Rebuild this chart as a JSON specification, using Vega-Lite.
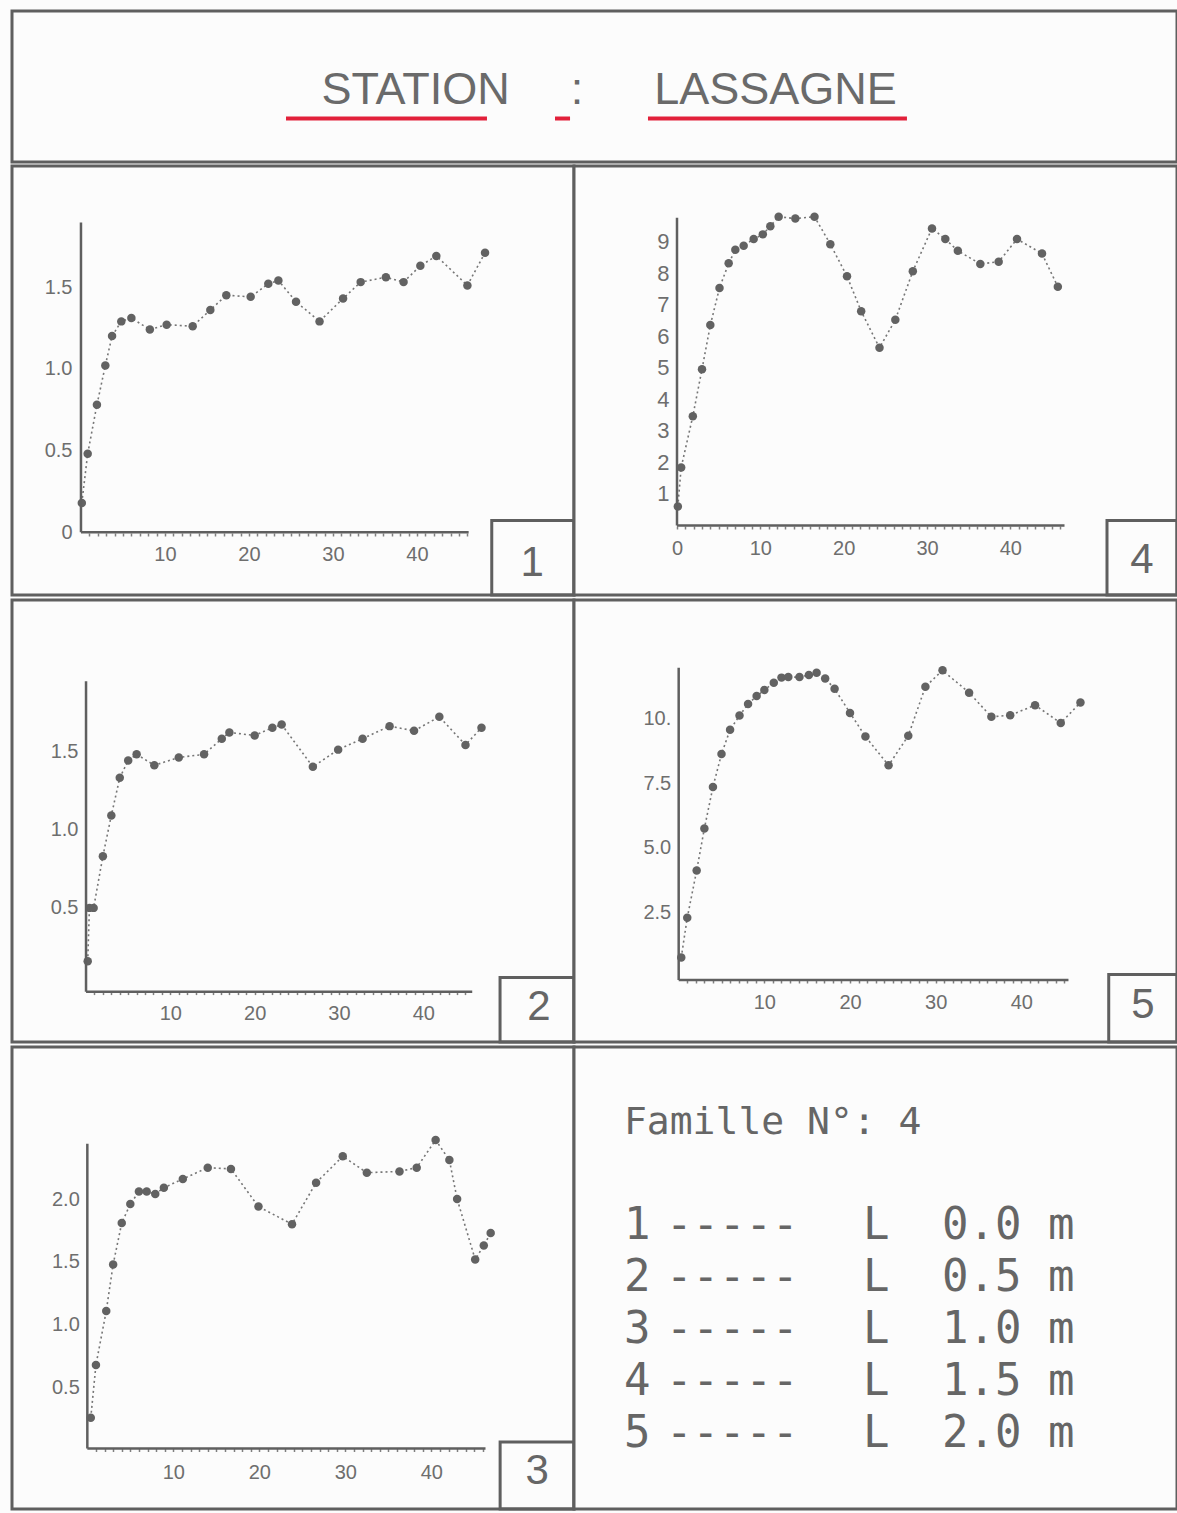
{
"$schema": "https://vega.github.io/schema/vega-lite/v6.json",
"padding": {"left": 10, "top": 9, "right": 2, "bottom": 2},
"background": "#fcfcfc",
"spacing": 0,
"config": {
 "view": {"stroke": "#5f5f5f", "strokeWidth": 3, "fill": "#fcfcfc"},
 "axis": {"grid": false, "domain": false, "labelFont": "Liberation Sans", "labelFontSize": 20, "labelColor": "#6e6e6e", "tickColor": "#808080", "tickWidth": 1.5, "labelFlush": false, "labelOverlap": false, "labelBound": false, "tickCount": 100},
 "text": {"font": "Liberation Sans", "color": "#666666"}
},
"datasets": {
 "profils": [
  {"panel":1,"x":0.1,"y":0.18},{"panel":1,"x":0.8,"y":0.48},{"panel":1,"x":1.9,"y":0.78},{"panel":1,"x":2.9,"y":1.02},{"panel":1,"x":3.7,"y":1.2},{"panel":1,"x":4.8,"y":1.29},{"panel":1,"x":6.0,"y":1.31},{"panel":1,"x":8.2,"y":1.24},{"panel":1,"x":10.2,"y":1.27},{"panel":1,"x":13.3,"y":1.26},{"panel":1,"x":15.4,"y":1.36},{"panel":1,"x":17.3,"y":1.45},{"panel":1,"x":20.2,"y":1.44},{"panel":1,"x":22.3,"y":1.52},{"panel":1,"x":23.5,"y":1.54},{"panel":1,"x":25.6,"y":1.41},{"panel":1,"x":28.4,"y":1.29},{"panel":1,"x":31.2,"y":1.43},{"panel":1,"x":33.3,"y":1.53},{"panel":1,"x":36.3,"y":1.56},{"panel":1,"x":38.4,"y":1.53},{"panel":1,"x":40.4,"y":1.63},{"panel":1,"x":42.3,"y":1.69},{"panel":1,"x":46.0,"y":1.51},{"panel":1,"x":48.1,"y":1.71},
  {"panel":4,"x":0.1,"y":0.6},{"panel":4,"x":0.5,"y":1.84},{"panel":4,"x":1.9,"y":3.47},{"panel":4,"x":3.0,"y":4.96},{"panel":4,"x":4.0,"y":6.36},{"panel":4,"x":5.1,"y":7.54},{"panel":4,"x":6.2,"y":8.32},{"panel":4,"x":7.0,"y":8.75},{"panel":4,"x":8.0,"y":8.88},{"panel":4,"x":9.2,"y":9.09},{"panel":4,"x":10.3,"y":9.24},{"panel":4,"x":11.2,"y":9.5},{"panel":4,"x":12.2,"y":9.8},{"panel":4,"x":14.2,"y":9.74},{"panel":4,"x":16.5,"y":9.8},{"panel":4,"x":18.4,"y":8.93},{"panel":4,"x":20.4,"y":7.91},{"panel":4,"x":22.1,"y":6.8},{"panel":4,"x":24.3,"y":5.64},{"panel":4,"x":26.2,"y":6.53},{"panel":4,"x":28.3,"y":8.07},{"panel":4,"x":30.6,"y":9.43},{"panel":4,"x":32.2,"y":9.09},{"panel":4,"x":33.7,"y":8.72},{"panel":4,"x":36.4,"y":8.3},{"panel":4,"x":38.6,"y":8.37},{"panel":4,"x":40.8,"y":9.09},{"panel":4,"x":43.8,"y":8.63},{"panel":4,"x":45.7,"y":7.58},
  {"panel":2,"x":0.2,"y":0.16},{"panel":2,"x":0.4,"y":0.5},{"panel":2,"x":0.9,"y":0.5},{"panel":2,"x":2.0,"y":0.83},{"panel":2,"x":3.0,"y":1.09},{"panel":2,"x":4.0,"y":1.33},{"panel":2,"x":5.0,"y":1.44},{"panel":2,"x":6.0,"y":1.48},{"panel":2,"x":8.1,"y":1.41},{"panel":2,"x":11.0,"y":1.46},{"panel":2,"x":14.0,"y":1.48},{"panel":2,"x":16.1,"y":1.58},{"panel":2,"x":17.0,"y":1.62},{"panel":2,"x":20.0,"y":1.6},{"panel":2,"x":22.1,"y":1.65},{"panel":2,"x":23.2,"y":1.67},{"panel":2,"x":26.9,"y":1.4},{"panel":2,"x":29.9,"y":1.51},{"panel":2,"x":32.8,"y":1.58},{"panel":2,"x":36.0,"y":1.66},{"panel":2,"x":38.9,"y":1.63},{"panel":2,"x":41.9,"y":1.72},{"panel":2,"x":45.0,"y":1.54},{"panel":2,"x":46.9,"y":1.65},
  {"panel":5,"x":0.3,"y":0.78},{"panel":5,"x":1.0,"y":2.31},{"panel":5,"x":2.1,"y":4.13},{"panel":5,"x":3.0,"y":5.75},{"panel":5,"x":4.0,"y":7.35},{"panel":5,"x":5.0,"y":8.62},{"panel":5,"x":6.0,"y":9.55},{"panel":5,"x":7.1,"y":10.1},{"panel":5,"x":8.1,"y":10.54},{"panel":5,"x":9.1,"y":10.85},{"panel":5,"x":10.0,"y":11.08},{"panel":5,"x":11.1,"y":11.36},{"panel":5,"x":12.0,"y":11.56},{"panel":5,"x":12.8,"y":11.58},{"panel":5,"x":14.1,"y":11.58},{"panel":5,"x":15.2,"y":11.66},{"panel":5,"x":16.1,"y":11.75},{"panel":5,"x":17.1,"y":11.53},{"panel":5,"x":18.2,"y":11.13},{"panel":5,"x":20.0,"y":10.2},{"panel":5,"x":21.8,"y":9.29},{"panel":5,"x":24.5,"y":8.18},{"panel":5,"x":26.8,"y":9.32},{"panel":5,"x":28.8,"y":11.21},{"panel":5,"x":30.8,"y":11.84},{"panel":5,"x":33.9,"y":10.98},{"panel":5,"x":36.5,"y":10.05},{"panel":5,"x":38.7,"y":10.11},{"panel":5,"x":41.6,"y":10.5},{"panel":5,"x":44.6,"y":9.81},{"panel":5,"x":46.9,"y":10.6},
  {"panel":3,"x":0.4,"y":0.26},{"panel":3,"x":1.0,"y":0.68},{"panel":3,"x":2.2,"y":1.11},{"panel":3,"x":3.0,"y":1.48},{"panel":3,"x":4.0,"y":1.81},{"panel":3,"x":5.0,"y":1.96},{"panel":3,"x":6.0,"y":2.06},{"panel":3,"x":6.9,"y":2.06},{"panel":3,"x":7.9,"y":2.04},{"panel":3,"x":8.9,"y":2.09},{"panel":3,"x":11.1,"y":2.16},{"panel":3,"x":14.0,"y":2.25},{"panel":3,"x":16.7,"y":2.24},{"panel":3,"x":19.9,"y":1.94},{"panel":3,"x":23.8,"y":1.8},{"panel":3,"x":26.6,"y":2.13},{"panel":3,"x":29.7,"y":2.34},{"panel":3,"x":32.5,"y":2.21},{"panel":3,"x":36.3,"y":2.22},{"panel":3,"x":38.3,"y":2.25},{"panel":3,"x":40.5,"y":2.47},{"panel":3,"x":42.1,"y":2.31},{"panel":3,"x":43.0,"y":2.0},{"panel":3,"x":45.1,"y":1.52},{"panel":3,"x":46.1,"y":1.63},{"panel":3,"x":46.9,"y":1.73}
 ]
},
"vconcat": [
 {
  "width": 1165, "height": 151,
  "data": {"values": [{}]},
  "layer": [
   {"mark": {"type": "text", "text": "STATION", "fontSize": 45, "align": "center", "baseline": "alphabetic", "color": "#6a6a6a"},
    "encoding": {"x": {"datum": 0.3464, "type": "quantitative", "scale": {"domain": [0, 1], "nice": false, "zero": false}, "axis": null},
                 "y": {"datum": 0.385, "type": "quantitative", "scale": {"domain": [0, 1], "nice": false, "zero": false}, "axis": null}}},
   {"mark": {"type": "text", "text": ":", "fontSize": 45, "align": "center", "baseline": "alphabetic", "color": "#6a6a6a"},
    "encoding": {"x": {"datum": 0.485, "type": "quantitative", "axis": null}, "y": {"datum": 0.385, "type": "quantitative", "axis": null}}},
   {"mark": {"type": "text", "text": "LASSAGNE", "fontSize": 45, "align": "center", "baseline": "alphabetic", "color": "#6a6a6a"},
    "encoding": {"x": {"datum": 0.6554, "type": "quantitative", "axis": null}, "y": {"datum": 0.385, "type": "quantitative", "axis": null}}},
   {"mark": {"type": "rule", "color": "#e2203a", "strokeWidth": 4},
    "encoding": {"x": {"datum": 0.2352, "type": "quantitative", "axis": null}, "x2": {"datum": 0.4077}, "y": {"datum": 0.288, "type": "quantitative", "axis": null}}},
   {"mark": {"type": "rule", "color": "#e2203a", "strokeWidth": 4},
    "encoding": {"x": {"datum": 0.4661, "type": "quantitative", "axis": null}, "x2": {"datum": 0.479}, "y": {"datum": 0.288, "type": "quantitative", "axis": null}}},
   {"mark": {"type": "rule", "color": "#e2203a", "strokeWidth": 4},
    "encoding": {"x": {"datum": 0.5459, "type": "quantitative", "axis": null}, "x2": {"datum": 0.7682}, "y": {"datum": 0.288, "type": "quantitative", "axis": null}}}
  ]
 },
 {
  "hconcat": [
   {
    "width": 562, "height": 429,
    "layer": [
     {"data": {"name": "profils"}, "transform": [{"filter": "datum.panel === 1"}],
      "mark": {"type": "line", "color": "#767676", "strokeWidth": 1.6, "strokeDash": [2, 3], "point": {"filled": true, "size": 72, "color": "#626262"}},
      "encoding": {
       "x": {"field": "x", "type": "quantitative", "scale": {"domain": [-8.21, 58.69], "nice": false, "zero": false},
             "axis": {"title": null, "orient": "bottom", "offset": -62, "tickCount": 100, "values": [1,2,3,4,5,6,7,8,9,10,11,12,13,14,15,16,17,18,19,20,21,22,23,24,25,26,27,28,29,30,31,32,33,34,35,36,37,38,39,40,41,42,43,44,45,46], "labelExpr": "datum.value % 10 === 0 ? format(datum.value, 'd') : ''", "labelOverlap": false, "tickSize": 3, "labelPadding": 8}},
       "y": {"field": "y", "type": "quantitative", "scale": {"domain": [-0.383, 2.24], "nice": false, "zero": false},
             "axis": {"title": null, "orient": "left", "offset": -69, "tickCount": 100, "values": [0, 0.5, 1, 1.5], "labelExpr": "datum.value === 0 ? '0' : format(datum.value, '.1f')", "labelOverlap": false, "ticks": false, "labelPadding": 9}}
      }},
     {"data": {"values": [{}]}, "mark": {"type": "rule", "color": "#5f5f5f", "strokeWidth": 2.5},
      "encoding": {"x": {"datum": 0, "type": "quantitative"}, "y": {"datum": 0, "type": "quantitative"}, "y2": {"datum": 1.894}}},
     {"data": {"values": [{}]}, "mark": {"type": "rule", "color": "#5f5f5f", "strokeWidth": 2.5},
      "encoding": {"x": {"datum": 0, "type": "quantitative"}, "x2": {"datum": 46.15}, "y": {"datum": 0, "type": "quantitative"}}},
     {"data": {"values": [{}]}, "mark": {"type": "rect", "fill": null, "fillOpacity": 0, "stroke": "#5f5f5f", "strokeWidth": 3},
      "encoding": {"x": {"datum": 48.9, "type": "quantitative"}, "x2": {"datum": 58.69}, "y": {"datum": 0.073, "type": "quantitative"}, "y2": {"datum": -0.383}}},
     {"data": {"values": [{}]}, "mark": {"type": "text", "text": "1", "fontSize": 42, "align": "center", "baseline": "middle", "color": "#666666"},
      "encoding": {"x": {"datum": 53.7, "type": "quantitative"}, "y": {"datum": -0.188, "type": "quantitative"}}}
    ]
   },
   {
    "width": 603, "height": 429,
    "layer": [
     {"data": {"name": "profils"}, "transform": [{"filter": "datum.panel === 4"}],
      "mark": {"type": "line", "color": "#767676", "strokeWidth": 1.6, "strokeDash": [2, 3], "point": {"filled": true, "size": 72, "color": "#626262"}},
      "encoding": {
       "x": {"field": "x", "type": "quantitative", "scale": {"domain": [-12.36, 60.0], "nice": false, "zero": false},
             "axis": {"title": null, "orient": "bottom", "offset": -69, "tickCount": 100, "values": [0,1,2,3,4,5,6,7,8,9,10,11,12,13,14,15,16,17,18,19,20,21,22,23,24,25,26,27,28,29,30,31,32,33,34,35,36,37,38,39,40,41,42,43,44,45,46], "labelExpr": "datum.value % 10 === 0 ? format(datum.value, 'd') : ''", "labelOverlap": false, "tickSize": 3, "labelPadding": 9}},
       "y": {"field": "y", "type": "quantitative", "scale": {"domain": [-2.206, 11.41], "nice": false, "zero": false},
             "axis": {"title": null, "orient": "left", "offset": -103, "tickCount": 100, "values": [1,2,3,4,5,6,7,8,9], "labelExpr": "format(datum.value, 'd')", "labelOverlap": false, "ticks": false, "labelPadding": 8, "labelFontSize": 22}}
      }},
     {"data": {"values": [{}]}, "mark": {"type": "rule", "color": "#5f5f5f", "strokeWidth": 2.5},
      "encoding": {"x": {"datum": 0, "type": "quantitative"}, "y": {"datum": 0, "type": "quantitative"}, "y2": {"datum": 9.77}}},
     {"data": {"values": [{}]}, "mark": {"type": "rule", "color": "#5f5f5f", "strokeWidth": 2.5},
      "encoding": {"x": {"datum": 0, "type": "quantitative"}, "x2": {"datum": 46.5}, "y": {"datum": 0, "type": "quantitative"}}},
     {"data": {"values": [{}]}, "mark": {"type": "rect", "fill": null, "fillOpacity": 0, "stroke": "#5f5f5f", "strokeWidth": 3},
      "encoding": {"x": {"datum": 51.6, "type": "quantitative"}, "x2": {"datum": 60.0}, "y": {"datum": 0.158, "type": "quantitative"}, "y2": {"datum": -2.206}}},
     {"data": {"values": [{}]}, "mark": {"type": "text", "text": "4", "fontSize": 42, "align": "center", "baseline": "middle", "color": "#666666"},
      "encoding": {"x": {"datum": 55.8, "type": "quantitative"}, "y": {"datum": -1.1, "type": "quantitative"}}}
    ]
   }
  ],
  "spacing": 0, "bounds": "flush"
 },
 {
  "hconcat": [
   {
    "width": 562, "height": 442,
    "layer": [
     {"data": {"name": "profils"}, "transform": [{"filter": "datum.panel === 2"}],
      "mark": {"type": "line", "color": "#767676", "strokeWidth": 1.6, "strokeDash": [2, 3], "point": {"filled": true, "size": 72, "color": "#626262"}},
      "encoding": {
       "x": {"field": "x", "type": "quantitative", "scale": {"domain": [-8.78, 57.87], "nice": false, "zero": false},
             "axis": {"title": null, "orient": "bottom", "offset": -50.4, "tickCount": 100, "values": [1,2,3,4,5,6,7,8,9,10,11,12,13,14,15,16,17,18,19,20,21,22,23,24,25,26,27,28,29,30,31,32,33,34,35,36,37,38,39,40,41,42,43,44,45], "labelExpr": "datum.value % 10 === 0 ? format(datum.value, 'd') : ''", "labelOverlap": false, "tickSize": 3, "labelPadding": 9}},
       "y": {"field": "y", "type": "quantitative", "scale": {"domain": [-0.356, 2.465], "nice": false, "zero": false},
             "axis": {"title": null, "orient": "left", "offset": -74, "tickCount": 100, "values": [0.5, 1, 1.5], "labelExpr": "format(datum.value, '.1f')", "labelOverlap": false, "ticks": false, "labelPadding": 8}}
      }},
     {"data": {"values": [{}]}, "mark": {"type": "rule", "color": "#5f5f5f", "strokeWidth": 2.5},
      "encoding": {"x": {"datum": 0, "type": "quantitative"}, "y": {"datum": -0.035, "type": "quantitative"}, "y2": {"datum": 1.947}}},
     {"data": {"values": [{}]}, "mark": {"type": "rule", "color": "#5f5f5f", "strokeWidth": 2.5},
      "encoding": {"x": {"datum": 0, "type": "quantitative"}, "x2": {"datum": 45.8}, "y": {"datum": -0.035, "type": "quantitative"}}},
     {"data": {"values": [{}]}, "mark": {"type": "rect", "fill": null, "fillOpacity": 0, "stroke": "#5f5f5f", "strokeWidth": 3},
      "encoding": {"x": {"datum": 49.1, "type": "quantitative"}, "x2": {"datum": 57.87}, "y": {"datum": 0.056, "type": "quantitative"}, "y2": {"datum": -0.356}}},
     {"data": {"values": [{}]}, "mark": {"type": "text", "text": "2", "fontSize": 42, "align": "center", "baseline": "middle", "color": "#666666"},
      "encoding": {"x": {"datum": 53.7, "type": "quantitative"}, "y": {"datum": -0.134, "type": "quantitative"}}}
    ]
   },
   {
    "width": 603, "height": 442,
    "layer": [
     {"data": {"name": "profils"}, "transform": [{"filter": "datum.panel === 5"}],
      "mark": {"type": "line", "color": "#767676", "strokeWidth": 1.6, "strokeDash": [2, 3], "point": {"filled": true, "size": 72, "color": "#626262"}},
      "encoding": {
       "x": {"field": "x", "type": "quantitative", "scale": {"domain": [-12.22, 58.17], "nice": false, "zero": false},
             "axis": {"title": null, "orient": "bottom", "offset": -62, "tickCount": 100, "values": [1,2,3,4,5,6,7,8,9,10,11,12,13,14,15,16,17,18,19,20,21,22,23,24,25,26,27,28,29,30,31,32,33,34,35,36,37,38,39,40,41,42,43,44,45], "labelExpr": "datum.value % 10 === 0 ? format(datum.value, 'd') : ''", "labelOverlap": false, "tickSize": 3, "labelPadding": 9}},
       "y": {"field": "y", "type": "quantitative", "scale": {"domain": [-2.476, 14.55], "nice": false, "zero": false},
             "axis": {"title": null, "orient": "left", "offset": -104.7, "tickCount": 100, "values": [2.5, 5, 7.5, 10], "labelExpr": "datum.value === 10 ? '10.' : format(datum.value, '.1f')", "labelOverlap": false, "ticks": false, "labelPadding": 8}}
      }},
     {"data": {"values": [{}]}, "mark": {"type": "rule", "color": "#5f5f5f", "strokeWidth": 2.5},
      "encoding": {"x": {"datum": 0, "type": "quantitative"}, "y": {"datum": -0.09, "type": "quantitative"}, "y2": {"datum": 11.94}}},
     {"data": {"values": [{}]}, "mark": {"type": "rule", "color": "#5f5f5f", "strokeWidth": 2.5},
      "encoding": {"x": {"datum": 0, "type": "quantitative"}, "x2": {"datum": 45.5}, "y": {"datum": -0.09, "type": "quantitative"}}},
     {"data": {"values": [{}]}, "mark": {"type": "rect", "fill": null, "fillOpacity": 0, "stroke": "#5f5f5f", "strokeWidth": 3},
      "encoding": {"x": {"datum": 50.2, "type": "quantitative"}, "x2": {"datum": 58.17}, "y": {"datum": 0.126, "type": "quantitative"}, "y2": {"datum": -2.476}}},
     {"data": {"values": [{}]}, "mark": {"type": "text", "text": "5", "fontSize": 42, "align": "center", "baseline": "middle", "color": "#666666"},
      "encoding": {"x": {"datum": 54.2, "type": "quantitative"}, "y": {"datum": -1.06, "type": "quantitative"}}}
    ]
   }
  ],
  "spacing": 0, "bounds": "flush"
 },
 {
  "hconcat": [
   {
    "width": 562, "height": 462,
    "layer": [
     {"data": {"name": "profils"}, "transform": [{"filter": "datum.panel === 3"}],
      "mark": {"type": "line", "color": "#767676", "strokeWidth": 1.6, "strokeDash": [2, 3], "point": {"filled": true, "size": 72, "color": "#626262"}},
      "encoding": {
       "x": {"field": "x", "type": "quantitative", "scale": {"domain": [-8.76, 56.59], "nice": false, "zero": false},
             "axis": {"title": null, "orient": "bottom", "offset": -60.5, "tickCount": 100, "values": [1,2,3,4,5,6,7,8,9,10,11,12,13,14,15,16,17,18,19,20,21,22,23,24,25,26,27,28,29,30,31,32,33,34,35,36,37,38,39,40,41,42,43,44,45,46], "labelExpr": "datum.value % 10 === 0 ? format(datum.value, 'd') : ''", "labelOverlap": false, "tickSize": 3, "labelPadding": 11}},
       "y": {"field": "y", "type": "quantitative", "scale": {"domain": [-0.466, 3.21], "nice": false, "zero": false},
             "axis": {"title": null, "orient": "left", "offset": -75.3, "tickCount": 100, "values": [0.5, 1, 1.5, 2], "labelExpr": "format(datum.value, '.1f')", "labelOverlap": false, "ticks": false, "labelPadding": 8}}
      }},
     {"data": {"values": [{}]}, "mark": {"type": "rule", "color": "#5f5f5f", "strokeWidth": 2.5},
      "encoding": {"x": {"datum": 0, "type": "quantitative"}, "y": {"datum": 0.016, "type": "quantitative"}, "y2": {"datum": 2.44}}},
     {"data": {"values": [{}]}, "mark": {"type": "rule", "color": "#5f5f5f", "strokeWidth": 2.5},
      "encoding": {"x": {"datum": 0, "type": "quantitative"}, "x2": {"datum": 46.3}, "y": {"datum": 0.016, "type": "quantitative"}}},
     {"data": {"values": [{}]}, "mark": {"type": "rect", "fill": null, "fillOpacity": 0, "stroke": "#5f5f5f", "strokeWidth": 3},
      "encoding": {"x": {"datum": 48.0, "type": "quantitative"}, "x2": {"datum": 56.59}, "y": {"datum": 0.068, "type": "quantitative"}, "y2": {"datum": -0.466}}},
     {"data": {"values": [{}]}, "mark": {"type": "text", "text": "3", "fontSize": 42, "align": "center", "baseline": "middle", "color": "#666666"},
      "encoding": {"x": {"datum": 52.3, "type": "quantitative"}, "y": {"datum": -0.167, "type": "quantitative"}}}
    ]
   },
   {
    "width": 603, "height": 462,
    "data": {"values": [
     {"courbe": 1, "longueur": "0.0 m"},
     {"courbe": 2, "longueur": "0.5 m"},
     {"courbe": 3, "longueur": "1.0 m"},
     {"courbe": 4, "longueur": "1.5 m"},
     {"courbe": 5, "longueur": "2.0 m"}
    ]},
    "layer": [
     {"mark": {"type": "text", "font": "DejaVu Sans Mono", "fontSize": 44, "align": "left", "baseline": "alphabetic", "color": "#666666"},
      "encoding": {"x": {"datum": 0.0829, "type": "quantitative", "scale": {"domain": [0, 1], "nice": false, "zero": false}, "axis": null},
                   "y": {"field": "courbe", "type": "quantitative", "scale": {"domain": [-2.714, 6.2], "reverse": true, "nice": false, "zero": false}, "axis": null},
                   "text": {"field": "courbe", "type": "nominal"}}},
     {"mark": {"type": "text", "text": "-----", "font": "DejaVu Sans Mono", "fontSize": 44, "align": "left", "baseline": "alphabetic", "color": "#666666"},
      "encoding": {"x": {"datum": 0.1526, "type": "quantitative", "axis": null}, "y": {"field": "courbe", "type": "quantitative", "axis": null}}},
     {"mark": {"type": "text", "text": "L", "font": "DejaVu Sans Mono", "fontSize": 44, "align": "left", "baseline": "alphabetic", "color": "#666666"},
      "encoding": {"x": {"datum": 0.4793, "type": "quantitative", "axis": null}, "y": {"field": "courbe", "type": "quantitative", "axis": null}}},
     {"mark": {"type": "text", "font": "DejaVu Sans Mono", "fontSize": 44, "align": "left", "baseline": "alphabetic", "color": "#666666"},
      "encoding": {"x": {"datum": 0.6103, "type": "quantitative", "axis": null}, "y": {"field": "courbe", "type": "quantitative", "axis": null}, "text": {"field": "longueur", "type": "nominal"}}},
     {"data": {"values": [{}]}, "mark": {"type": "text", "text": "Famille N°: 4", "font": "DejaVu Sans Mono", "fontSize": 38, "align": "left", "baseline": "alphabetic", "color": "#666666"},
      "encoding": {"x": {"datum": 0.0829, "type": "quantitative", "axis": null}, "y": {"datum": -1.038, "type": "quantitative", "axis": null}}}
    ]
   }
  ],
  "spacing": 0, "bounds": "flush"
 }
]
}
